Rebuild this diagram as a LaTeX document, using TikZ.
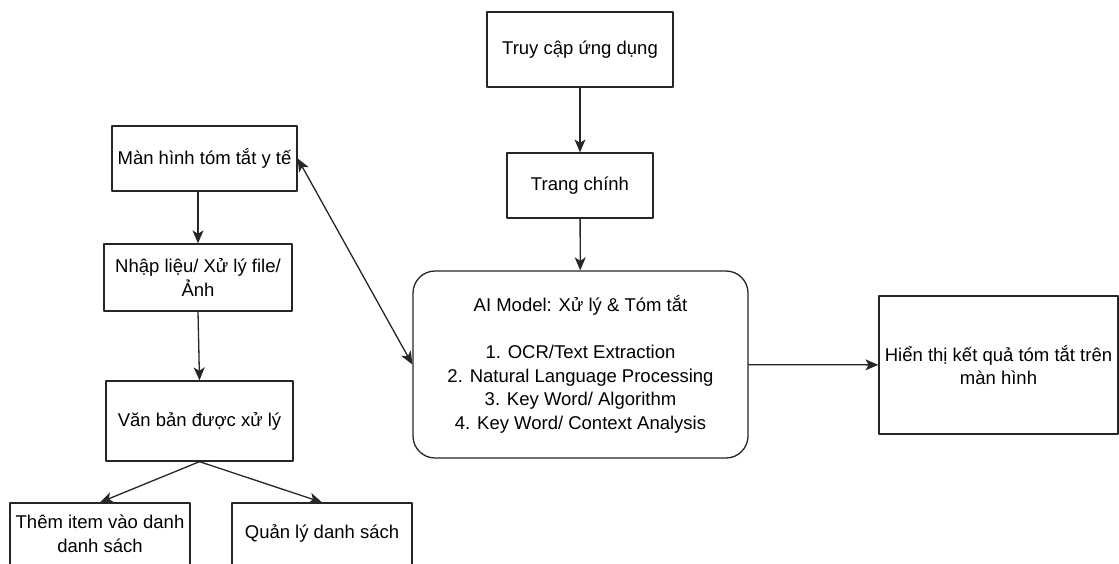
\documentclass[tikz,border=0pt]{standalone}
\usepackage{fontspec}
\setmainfont{Liberation Sans}
\usetikzlibrary{arrows.meta}

\begin{document}
\begin{tikzpicture}[x=1pt, y=-1pt, >={Stealth[length=13pt, width=11pt, inset=3.5pt]},
	line cap=round, line join=round, font=\fontsize{18.5}{23.5}\selectfont,
	box/.style={draw=black!85, line width=1.3pt, align=center, inner sep=2pt},
	roundbox/.style={box, rounded corners=22pt},
	link/.style={->, draw=black!85, line width=1.3pt}]

% page
\fill[white] (0,0) rectangle (1119,563);
\useasboundingbox (0,0) rectangle (1119,563);

%========================
% Middle: main flow
%========================
\node[box, minimum width=186, minimum height=75] (truycap) at (580,49.5) {Truy cập ứng dụng};
\node[box, minimum width=146, minimum height=65] (trangchinh) at (580,185.5) {Trang chính};
\node[roundbox, minimum width=335, minimum height=187] (aimodel) at (580.5,364.5)
	{AI Model: Xử lý \& Tóm tắt\\[23.5pt]
	1. OCR/Text Extraction\\
	2. Natural Language Processing\\
	3. Key Word/ Algorithm\\
	4. Key Word/ Context Analysis};
\node[box, minimum width=239, minimum height=138] (hienthi) at (998.5,365)
	{Hiển thị kết quả tóm tắt trên\\màn hình};

%========================
% Left: medical summary screen
%========================
\node[box, minimum width=185, minimum height=65] (manhinh) at (204.5,158.5) {Màn hình tóm tắt y tế};
\node[box, minimum width=188, minimum height=67] (nhaplieu) at (198,277.5) {Nhập liệu/ Xử lý file/\\Ảnh};
\node[box, minimum width=187, minimum height=80] (vanban) at (199.5,421) {Văn bản được xử lý};
\node[box, minimum width=180, minimum height=62] (themitem) at (100,534) {Thêm item vào danh\\danh sách};
\node[box, minimum width=180, minimum height=62] (quanly) at (322,534) {Quản lý danh sách};

%========================
% Connectors
%========================
\draw[link] (truycap) -- (trangchinh);
\draw[link] (trangchinh) -- (aimodel);
\draw[link] (aimodel) -- (hienthi);
\draw[link, <->] (manhinh.east) -- (aimodel.west);
\draw[link] (nhaplieu.north |- manhinh.south) -- (nhaplieu.north);
\draw[link] (nhaplieu.south) -- (vanban.north);
\draw[link] (vanban.south) -- (themitem.north);
\draw[link] (vanban.south) -- (quanly.north);

\end{tikzpicture}
\end{document}
